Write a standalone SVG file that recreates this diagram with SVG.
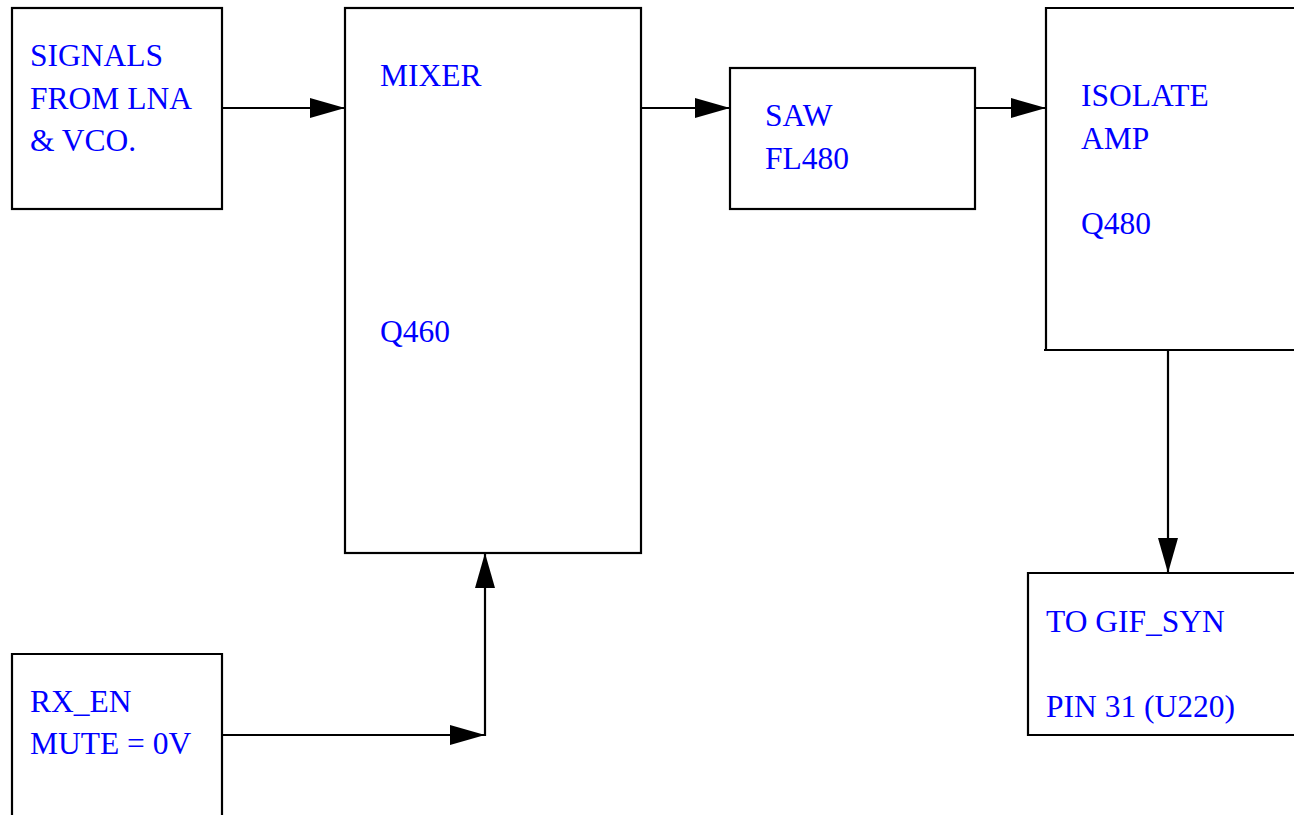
<svg xmlns="http://www.w3.org/2000/svg" width="1294" height="815" viewBox="0 0 1294 815">
<style>
.box{fill:none;stroke:#000;stroke-width:2.2}
.wire{fill:none;stroke:#000;stroke-width:2.2}
.lbl{font-family:"Liberation Serif","Times New Roman",serif;font-size:31.5px;fill:#0000ff}
</style>
<defs>
<marker id="arr" markerUnits="userSpaceOnUse" viewBox="0 0 35 20" refX="35" refY="10" markerWidth="35" markerHeight="20" orient="auto">
<path d="M0,0 L35,10 L0,20 Z" fill="#000"/>
</marker>
</defs>
<rect width="1294" height="815" fill="#fff"/>
<g id="connectors">
<line class="wire" x1="222" y1="108" x2="345" y2="108" marker-end="url(#arr)"/>
<line class="wire" x1="641" y1="108" x2="730" y2="108" marker-end="url(#arr)"/>
<line class="wire" x1="975" y1="108" x2="1046" y2="108" marker-end="url(#arr)"/>
<line class="wire" x1="1168" y1="350" x2="1168" y2="573" marker-end="url(#arr)"/>
<line class="wire" x1="222" y1="735" x2="485" y2="735" marker-end="url(#arr)"/>
<line class="wire" x1="485" y1="736" x2="485" y2="553" marker-end="url(#arr)"/>
</g>
<g id="signals">
<rect class="box" x="12" y="8" width="210" height="201"/>
<text class="lbl" x="30" y="66">SIGNALS</text>
<text class="lbl" x="30" y="109">FROM LNA</text>
<text class="lbl" x="30" y="151">&amp; VCO.</text>
</g>
<g id="mixer">
<rect class="box" x="345" y="8" width="296" height="545"/>
<text class="lbl" x="380" y="86">MIXER</text>
<text class="lbl" x="380" y="342">Q460</text>
</g>
<g id="saw">
<rect class="box" x="730" y="68" width="245" height="141"/>
<text class="lbl" x="765" y="126">SAW</text>
<text class="lbl" x="765" y="169">FL480</text>
</g>
<g id="isolate">
<path class="box" d="M1300,8 H1046 V350 M1044,350 H1300"/>
<text class="lbl" x="1081" y="106">ISOLATE</text>
<text class="lbl" x="1081" y="149">AMP</text>
<text class="lbl" x="1081" y="234">Q480</text>
</g>
<g id="gif">
<path class="box" d="M1300,573 H1028 V735 H1300"/>
<text class="lbl" x="1046" y="632">TO GIF_SYN</text>
<text class="lbl" x="1046" y="717">PIN 31 (U220)</text>
</g>
<g id="rxen">
<path class="box" d="M12,820 V654 H222 V820"/>
<text class="lbl" x="30" y="712">RX_EN</text>
<text class="lbl" x="30" y="754">MUTE = 0V</text>
</g>
</svg>
